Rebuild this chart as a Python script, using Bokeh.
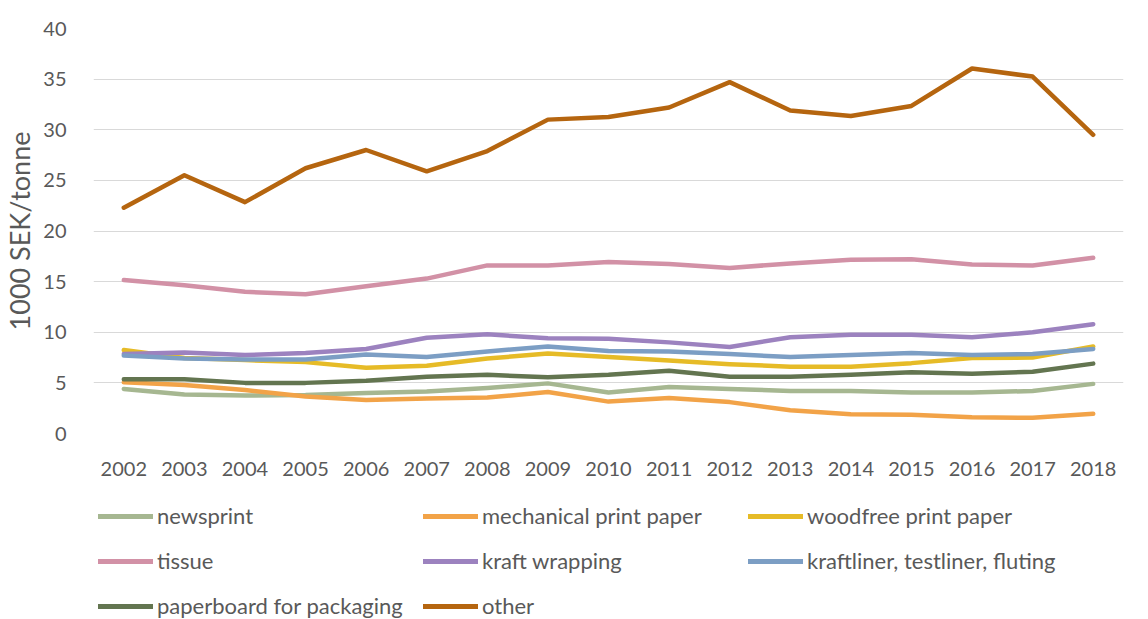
from bokeh.plotting import figure
from bokeh.models import Legend, LegendItem, SingleIntervalTicker
from bokeh.layouts import column
from bokeh.embed import file_html
from bokeh.resources import INLINE

years = [str(y) for y in range(2002, 2019)]

newsprint = [4.4, 3.85, 3.75, 3.8, 4.0, 4.15, 4.5, 4.95, 4.05, 4.6, 4.4, 4.2, 4.2, 4.05, 4.05, 4.2, 4.9]
mechanical = [5.05, 4.8, 4.3, 3.65, 3.3, 3.45, 3.55, 4.1, 3.15, 3.5, 3.1, 2.3, 1.9, 1.85, 1.6, 1.55, 1.95]
woodfree = [8.25, 7.45, 7.25, 7.05, 6.5, 6.7, 7.4, 7.9, 7.55, 7.2, 6.85, 6.6, 6.6, 6.95, 7.45, 7.5, 8.6]
tissue = [15.15, 14.65, 14.0, 13.75, 14.55, 15.3, 16.6, 16.6, 16.95, 16.75, 16.35, 16.8, 17.15, 17.2, 16.7, 16.6, 17.35]
kraft_wrapping = [7.85, 8.0, 7.75, 7.95, 8.35, 9.45, 9.8, 9.4, 9.35, 9.0, 8.55, 9.5, 9.75, 9.75, 9.5, 10.0, 10.8]
kraftliner = [7.7, 7.4, 7.3, 7.3, 7.8, 7.55, 8.1, 8.6, 8.15, 8.1, 7.85, 7.55, 7.75, 7.95, 7.75, 7.85, 8.35]
paperboard = [5.35, 5.35, 5.0, 5.0, 5.2, 5.6, 5.8, 5.55, 5.8, 6.2, 5.6, 5.6, 5.8, 6.05, 5.9, 6.1, 6.9]
other = [22.3, 25.5, 22.85, 26.2, 28.0, 25.9, 27.9, 31.0, 31.25, 32.2, 34.7, 31.9, 31.35, 32.35, 36.05, 35.25, 29.5]

series_names = ["newsprint", "mechanical print paper", "woodfree print paper", "tissue",
                "kraft wrapping", "kraftliner, testliner, fluting", "paperboard for packaging", "other"]
series_values = [newsprint, mechanical, woodfree, tissue, kraft_wrapping, kraftliner, paperboard, other]
series_colors = ["#A6B791", "#F2A348", "#E6BB27", "#D291A6", "#9C82BF", "#7C9EC4", "#637550", "#B5650F"]

FONT = "Lato"
TXT = "#595959"

# ---- main chart ----
p = figure(x_range=years, y_range=(0, 40), width=1148, height=490,
           output_backend="svg", toolbar_location=None,
           min_border_left=87, min_border_right=25, min_border_top=28, min_border_bottom=57)
p.outline_line_color = None
p.background_fill_color = "white"
p.border_fill_color = "white"

for name, vals, col in zip(series_names, series_values, series_colors):
    p.line(years, vals, line_color=col, line_width=4.5, line_cap="round", line_join="round")

p.xgrid.grid_line_color = None
p.ygrid.grid_line_color = "#D9D9D9"
p.ygrid.grid_line_width = 1.2

p.yaxis.ticker = SingleIntervalTicker(interval=5)
p.yaxis.axis_line_color = None
p.yaxis.major_tick_line_color = None
p.yaxis.minor_tick_line_color = None
p.yaxis.major_label_text_font = FONT
p.yaxis.major_label_text_font_size = "20px"
p.yaxis.major_label_text_color = TXT
p.yaxis.major_label_standoff = 21
p.yaxis.axis_label = "1000 SEK/tonne"
p.yaxis.axis_label_text_font = FONT
p.yaxis.axis_label_text_font_size = "27px"
p.yaxis.axis_label_text_font_style = "normal"
p.yaxis.axis_label_text_color = TXT
p.yaxis.axis_label_standoff = 4

p.xaxis.axis_line_color = None
p.xaxis.major_tick_line_color = None
p.xaxis.minor_tick_line_color = None
p.xaxis.major_label_text_font = FONT
p.xaxis.major_label_text_font_size = "20px"
p.xaxis.major_label_text_color = TXT
p.xaxis.major_label_standoff = 22

# ---- legend strip ----
q = figure(x_range=years, y_range=(0, 40), width=1148, height=129,
           output_backend="svg", toolbar_location=None,
           min_border_left=0, min_border_right=0, min_border_top=0, min_border_bottom=0)
q.outline_line_color = None
q.axis.visible = False
q.grid.grid_line_color = None
q.border_fill_color = "white"

items = []
for name, vals, col in zip(series_names, series_values, series_colors):
    r = q.line(years, vals, line_color=col, line_width=5, line_cap="round", visible=False)
    items.append(LegendItem(label=name, renderers=[r]))

legend = Legend(items=items, ncols=3, orientation="horizontal",
                glyph_width=55, glyph_height=20, label_width=248, label_height=22,
                label_standoff=4, spacing=18, padding=0, margin=0,
                location=(5, 0),
                inactive_fill_alpha=0,
                label_text_font=FONT, label_text_font_size="22px", label_text_color=TXT,
                border_line_color=None, background_fill_alpha=0)
q.add_layout(legend, "center")

open("out.html", "w").write(file_html(column(p, q, spacing=0), INLINE))
